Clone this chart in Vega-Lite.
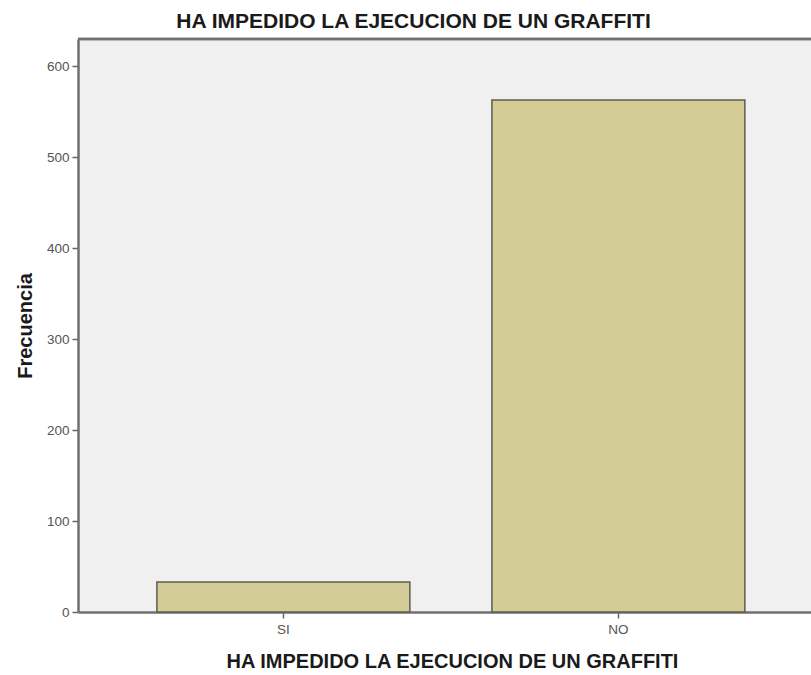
{
  "$schema": "https://vega.github.io/schema/vega-lite/v6.json",
  "width": 733,
  "height": 573,
  "autosize": {"type": "none"},
  "padding": {"left": 78, "top": 39, "right": 0, "bottom": 63},
  "background": "white",
  "title": {
    "text": "HA IMPEDIDO LA EJECUCION DE UN GRAFFITI",
    "font": "Liberation Sans",
    "fontSize": 21,
    "fontWeight": "bold",
    "color": "#1a1a1a",
    "anchor": "middle",
    "dx": -31,
    "offset": 6
  },
  "config": {
    "view": {"fill": "#f0f0f0", "stroke": null},
    "font": "Liberation Sans"
  },
  "data": {
    "values": [
      {"respuesta": "SI", "frecuencia": 33},
      {"respuesta": "NO", "frecuencia": 563}
    ]
  },
  "layer": [
    {
      "mark": {"type": "bar", "fill": "#d3cc96", "stroke": "#5e5c4c", "strokeWidth": 1.5},
      "encoding": {
        "x": {
          "field": "respuesta",
          "type": "nominal",
          "sort": ["SI", "NO"],
          "scale": {"paddingInner": 0.245, "paddingOuter": 0.2165, "align": 0.544},
          "axis": {
            "title": "HA IMPEDIDO LA EJECUCION DE UN GRAFFITI",
            "titleFont": "Liberation Sans",
            "titleFontSize": 20,
            "titleFontWeight": "bold",
            "titleColor": "#1a1a1a",
            "titlePadding": 16,
            "titleX": 374,
            "labelAngle": 0,
            "labelFontSize": 13.5,
            "labelColor": "#555555",
            "labelPadding": 4,
            "tickSize": 6,
            "tickColor": "#666666",
            "tickWidth": 1.5,
            "domainColor": "#707070",
            "domainWidth": 2.5
          }
        },
        "y": {
          "field": "frecuencia",
          "type": "quantitative",
          "scale": {"domain": [0, 630], "nice": false},
          "axis": {
            "title": "Frecuencia",
            "titleFont": "Liberation Sans",
            "titleFontSize": 20,
            "titleFontWeight": "bold",
            "titleColor": "#1a1a1a",
            "titlePadding": 11,
            "values": [0, 100, 200, 300, 400, 500, 600],
            "grid": false,
            "labelFontSize": 13.5,
            "labelColor": "#555555",
            "labelPadding": 3,
            "tickSize": 6,
            "tickColor": "#666666",
            "tickWidth": 1.5,
            "domainColor": "#707070",
            "domainWidth": 2.5
          }
        }
      }
    },
    {
      "mark": {"type": "rule", "color": "#707070", "strokeWidth": 2.5},
      "encoding": {"y": {"datum": 630}}
    }
  ]
}
